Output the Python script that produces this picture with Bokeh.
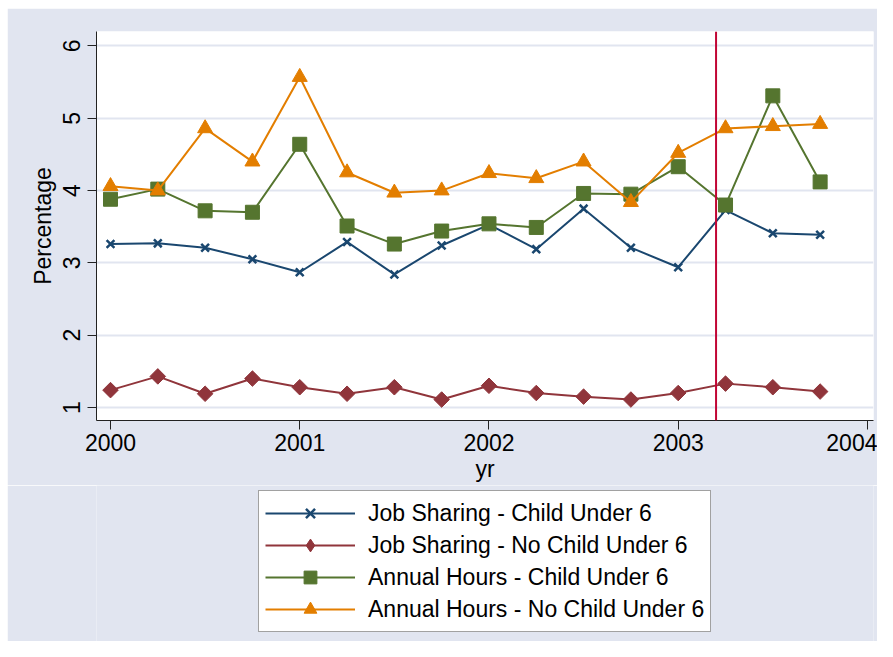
import math
from bokeh.plotting import figure
from bokeh.layouts import column, row
from bokeh.models import Range1d, Span, Legend, LegendItem, FixedTicker, Spacer
from bokeh.embed import file_html
from bokeh.resources import INLINE

# Quarterly time points
yr = [2000.00, 2000.25, 2000.50, 2000.75,
      2001.00, 2001.25, 2001.50, 2001.75,
      2002.00, 2002.25, 2002.50, 2002.75,
      2003.00, 2003.25, 2003.50, 2003.75]

job_child = [3.26, 3.27, 3.21, 3.05, 2.87, 3.29, 2.84, 3.24,
             3.53, 3.19, 3.75, 3.21, 2.94, 3.73, 3.41, 3.39]
job_nochild = [1.24, 1.43, 1.19, 1.40, 1.28, 1.19, 1.28, 1.11,
               1.30, 1.20, 1.15, 1.11, 1.20, 1.33, 1.28, 1.22]
hours_child = [3.88, 4.02, 3.72, 3.70, 4.64, 3.51, 3.26, 3.44,
               3.54, 3.49, 3.96, 3.95, 4.33, 3.80, 5.31, 4.12]
hours_nochild = [4.06, 4.00, 4.86, 4.40, 5.57, 4.25, 3.97, 4.00,
                 4.24, 4.17, 4.40, 3.84, 4.52, 4.86, 4.89, 4.92]

labels = ["Job Sharing - Child Under 6",
          "Job Sharing - No Child Under 6",
          "Annual Hours - Child Under 6",
          "Annual Hours - No Child Under 6"]
x_ticks = [2000, 2001, 2002, 2003, 2004]
y_ticks = [1, 2, 3, 4, 5, 6]
event_x = 2003.2

FONT = "Liberation Sans"
BG = "#e1e5f0"

p = figure(width=870, height=477, output_backend="svg", toolbar_location=None,
           x_range=Range1d(1999.926, 2004.032), y_range=Range1d(0.82, 6.2),
           min_border_left=89, min_border_right=4, min_border_top=23,
           min_border_bottom=65)
p.background_fill_color = "white"
p.border_fill_color = BG
p.outline_line_color = None

p.xgrid.visible = False
p.ygrid.grid_line_color = "#e1e5f0"
p.ygrid.grid_line_width = 2
p.ygrid.ticker = FixedTicker(ticks=y_ticks)

for ax in (p.xaxis[0], p.yaxis[0]):
    ax.axis_line_color = "#222222"
    ax.axis_line_width = 1
    ax.major_tick_line_color = "#222222"
    ax.major_tick_out = 9
    ax.major_tick_in = 0
    ax.minor_tick_line_color = None
    ax.major_label_text_font = FONT
    ax.major_label_text_font_size = "23px"
    ax.major_label_text_color = "black"
    ax.axis_label_text_font = FONT
    ax.axis_label_text_font_size = "23px"
    ax.axis_label_text_font_style = "normal"
    ax.axis_label_text_color = "black"

p.xaxis.ticker = FixedTicker(ticks=x_ticks)
p.yaxis.ticker = FixedTicker(ticks=y_ticks)
p.xaxis.axis_label = "yr"
p.yaxis.axis_label = "Percentage"
p.yaxis.major_label_orientation = "vertical"
p.xaxis.major_label_standoff = 4
p.xaxis.axis_label_standoff = 2
p.yaxis.major_label_standoff = 7
p.yaxis.axis_label_standoff = 5

colors = ["#1a476f", "#90353b", "#55752f", "#e37e00"]
series = [job_child, job_nochild, hours_child, hours_nochild]
markers = ["x", "square", "square", "triangle"]
angles = [0, math.pi / 4, 0, 0]
sizes = [11, 11, 14, 15]
# the legend does not rotate markers, so it uses a true diamond there
legend_markers = ["x", "diamond", "square", "triangle"]
legend_sizes = [11, 22, 14, 15]


def draw(fig, xs, ys, c, m, a, s):
    r1 = fig.line(xs, ys, line_color=c, line_width=2)
    if m == "x":
        r2 = fig.scatter(xs, ys, marker=m, size=s, line_color=c, line_width=2.5)
    else:
        r2 = fig.scatter(xs, ys, marker=m, size=s, angle=a,
                         fill_color=c, line_color=c)
    return r1, r2


for vals, c, m, a, s in zip(series, colors, markers, angles, sizes):
    draw(p, yr, vals, c, m, a, s)

p.add_layout(Span(location=event_x, dimension="height", line_color="#c10534",
                  line_width=2))

# legend panel below the chart (its renderers lie outside its visible range)
lg = figure(width=870, height=156, output_backend="svg", toolbar_location=None,
            x_range=Range1d(0, 1), y_range=Range1d(0, 1),
            min_border_left=0, min_border_right=0, min_border_top=0,
            min_border_bottom=0)
lg.axis.visible = False
lg.grid.visible = False
lg.outline_line_color = None
lg.background_fill_color = BG
lg.border_fill_color = BG

items = []
for vals, c, m, s, lab in zip(series, colors, legend_markers, legend_sizes, labels):
    r1, r2 = draw(lg, yr, vals, c, m, 0, s)
    items.append(LegendItem(label=lab, renderers=[r1, r2]))

legend = Legend(items=items, location=(162, 9), orientation="vertical")
legend.label_text_font = FONT
legend.label_text_font_size = "23px"
legend.label_text_color = "black"
legend.glyph_width = 90
legend.glyph_height = 32
legend.label_height = 32
legend.spacing = 0
legend.padding = 6
legend.label_standoff = 13
legend.margin = 0
legend.border_line_color = "#444444"
legend.border_line_width = 1.5
legend.background_fill_color = "white"
legend.background_fill_alpha = 1
lg.add_layout(legend, "center")

layout = column(Spacer(width=877, height=8),
                row(Spacer(width=7, height=633), column(p, lg, spacing=0), spacing=0),
                spacing=0)
open("out.html", "w").write(file_html(layout, INLINE))
